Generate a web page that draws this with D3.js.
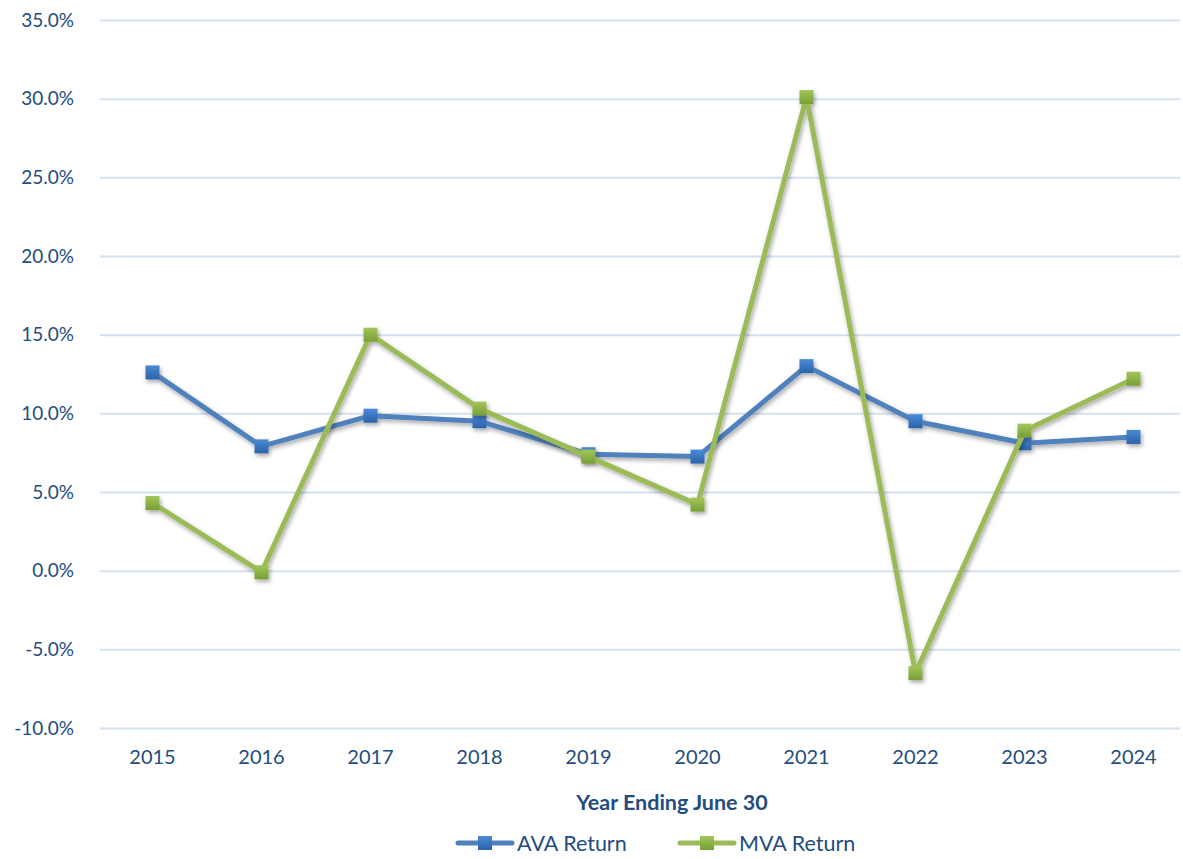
<!DOCTYPE html>
<html><head><meta charset="utf-8">
<script src="https://cdn.jsdelivr.net/npm/d3@7"></script>
<style>body{margin:0;background:#fff;} svg{display:block;}</style>
</head><body>
<svg id="c" width="1183" height="859"></svg>
<script>
const years = ["2015","2016","2017","2018","2019","2020","2021","2022","2023","2024"];
const avaReturn = [12.6, 7.9, 9.85, 9.5, 7.4, 7.25, 13.0, 9.5, 8.1, 8.5];
const mvaReturn = [4.3, -0.1, 15.0, 10.3, 7.25, 4.2, 30.1, -6.5, 8.9, 12.2];
const yTicks = [-10, -5, 0, 5, 10, 15, 20, 25, 30, 35];
const seriesNames = ["AVA Return", "MVA Return"];

const svg = d3.select("#c");
const m = {left: 98, right: 1188, top: 20, bottom: 728};
const textColor = "#234D7E";
const font = "Lato, 'Open Sans', sans-serif";

const x = d3.scaleBand().domain(years).range([m.left, m.right]);
const y = d3.scaleLinear().domain([-10, 35]).range([m.bottom, m.top]);

const defs = svg.append("defs");
const f = defs.append("filter").attr("id","sh").attr("x","-20%").attr("y","-20%").attr("width","140%").attr("height","140%");
f.append("feDropShadow").attr("dx",1.5).attr("dy",2.5).attr("stdDeviation",2).attr("flood-color","#000").attr("flood-opacity",0.35);
function grad(id, c1, c2){
  const g = defs.append("linearGradient").attr("id",id).attr("x1",0).attr("y1",0).attr("x2",0).attr("y2",1);
  g.append("stop").attr("offset","0%").attr("stop-color",c1);
  g.append("stop").attr("offset","100%").attr("stop-color",c2);
}
grad("gb","#4A8AD8","#2C63A8");
grad("gg","#A3C65A","#779E35");

// gridlines
const yAxis = d3.axisLeft(y).tickValues(yTicks).tickSize(-(1180 - 100)).tickFormat(d => d.toFixed(1) + "%");
const ga = svg.append("g").attr("transform","translate(100,0)").call(yAxis);
ga.select(".domain").remove();
ga.selectAll(".tick line").attr("stroke","#D5E0F0").attr("stroke-width",2);
ga.selectAll(".tick text").attr("x",-26).attr("fill",textColor).style("font-family",font).style("font-size","19px");

// x axis labels
const xAxis = d3.axisBottom(x).tickSize(0).tickPadding(22);
const gx = svg.append("g").attr("transform",`translate(0,${m.bottom})`).call(xAxis);
gx.select(".domain").remove();
gx.selectAll(".tick text").attr("fill",textColor).style("font-family",font).style("font-size","20px");

svg.append("text").attr("x",672).attr("y",810).attr("text-anchor","middle")
  .attr("fill",textColor).style("font-family",font).style("font-size","21.5px").style("font-weight","bold")
  .text("Year Ending June 30");

const series = [
  {name: seriesNames[0], vals: avaReturn, line: "#4F81BD", grad: "url(#gb)"},
  {name: seriesNames[1], vals: mvaReturn, line: "#9BBB59", grad: "url(#gg)"}
];
const cx = d => x(d) + x.bandwidth()/2;
const line = d3.line().x(d => cx(d.year)).y(d => y(d.v));

series.forEach(s => {
  const pts = years.map((yr,i) => ({year: yr, v: s.vals[i]}));
  const g = svg.append("g").attr("filter","url(#sh)");
  g.append("path").datum(pts).attr("d", line).attr("fill","none")
    .attr("stroke", s.line).attr("stroke-width",5).attr("stroke-linejoin","round");
  g.selectAll("rect").data(pts).join("rect")
    .attr("x", d => cx(d.year) - 7).attr("y", d => y(d.v) - 7)
    .attr("width",14).attr("height",14).attr("fill", s.grad);
});

// legend
const legX = [458, 680];
series.forEach((s,i) => {
  const g = svg.append("g").attr("transform",`translate(${legX[i]},843)`);
  g.append("line").attr("x1",0).attr("x2",54).attr("stroke",s.line).attr("stroke-width",5).attr("stroke-linecap","round");
  g.append("rect").attr("x",20).attr("y",-7).attr("width",14).attr("height",14).attr("fill",s.grad);
  g.append("text").attr("x",59).attr("y",7.5).attr("fill",textColor).style("font-family",font).style("font-size","21.5px").text(s.name);
});
</script>
</body></html>
